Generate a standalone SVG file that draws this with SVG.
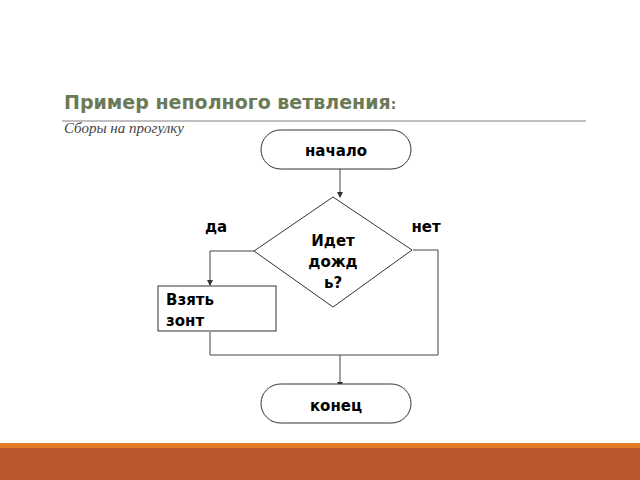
<svg xmlns="http://www.w3.org/2000/svg" width="640" height="480" viewBox="0 0 640 480">
<style>
.s{fill:#fff;stroke:#333;stroke-width:1}
.t{font-family:"DejaVu Sans",sans-serif;font-weight:bold;font-size:15px;fill:#000}
.c{fill:none;stroke:#444;stroke-width:1}
</style>
<defs><marker id="a" markerWidth="6" markerHeight="6" refX="5" refY="3" orient="auto"><path d="M0,0 L6,3 L0,6 z" fill="#333"/></marker></defs>
<rect width="640" height="480" fill="#fff"/>
<text x="64" y="109" font-family="DejaVu Sans,sans-serif" font-weight="bold" font-size="19" fill="#6b7a56">Пример неполного ветвления<tspan font-size="14">:</tspan></text>
<line x1="62" y1="121" x2="586" y2="121" stroke="#aaa" stroke-width="1.5"/>
<text x="64" y="133" font-family="Liberation Serif,serif" font-style="italic" font-size="15" fill="#444">Сборы на прогулку</text>
<g id="connectors">
<path class="c" d="M340,169 V197" marker-end="url(#a)"/>
<path class="c" d="M254,251 H210 V285" marker-end="url(#a)"/>
<path class="c" d="M413,250 H438 V355 H210 V332"/>
<path class="c" d="M340,355 V387" marker-end="url(#a)"/>
</g>
<g id="start"><rect class="s" x="261" y="130" width="150" height="39" rx="19.5"/><text class="t" x="336" y="156" text-anchor="middle">начало</text></g>
<g id="cond"><polygon class="s" points="333,197 412,250 333,307 254,251"/><text class="t" x="333" y="246" text-anchor="middle">Идет</text><text class="t" x="333" y="267" text-anchor="middle">дожд</text><text class="t" x="333" y="288" text-anchor="middle">ь?</text></g>
<g id="yes"><text class="t" x="216" y="232" text-anchor="middle">да</text></g>
<g id="no"><text class="t" x="426" y="232" text-anchor="middle">нет</text></g>
<g id="act"><rect class="s" x="158" y="286" width="118" height="45"/><text class="t" x="166" y="305">Взять</text><text class="t" x="166" y="326">зонт</text></g>
<g id="end"><rect class="s" x="261" y="384" width="150" height="39" rx="19.5"/><text class="t" x="336" y="411" text-anchor="middle">конец</text></g>
<rect x="0" y="443" width="640" height="5" fill="#e07b25"/>
<rect x="0" y="448" width="640" height="32" fill="#bd582c"/>
</svg>
